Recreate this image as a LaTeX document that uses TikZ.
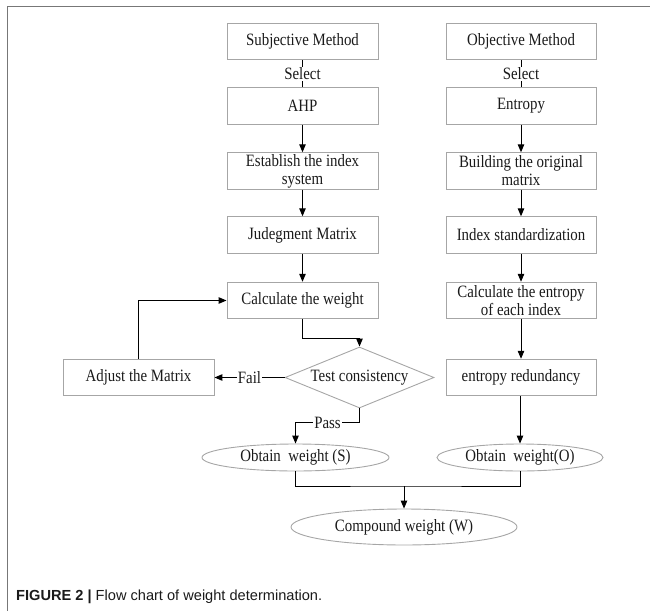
\documentclass[tikz,border=0pt]{standalone}
\usepackage{fontspec}
\setmainfont[FakeStretch=0.86]{Liberation Serif}
\newfontfamily\capfont{Liberation Sans}
\usetikzlibrary{shapes.geometric,arrows.meta,calc}
\definecolor{boxgray}{HTML}{A6A6A6}
\definecolor{framegray}{HTML}{777777}
\definecolor{txt}{HTML}{1A1A1A}
\begin{document}
\begin{tikzpicture}[x=1pt,y=-1pt,
  every node/.style={text=txt},
  bodyfont/.style={font=\fontsize{17.3}{18}\selectfont},
  box/.style={draw=boxgray, line width=0.9pt, minimum width=151pt, minimum height=36.5pt, align=center, inner sep=1pt, bodyfont},
  ell/.style={draw=boxgray, line width=0.9pt, ellipse, inner sep=0pt, bodyfont},
  dia/.style={draw=boxgray, line width=0.9pt, diamond, aspect=2.44, inner sep=0pt, minimum width=149pt, minimum height=61pt, bodyfont},
  conn/.style={draw=black, line width=1pt},
  arr/.style={conn, -{Triangle[length=8pt,width=6.5pt]}},
  lbl/.style={fill=white, inner sep=1pt, bodyfont}
]
\useasboundingbox (0,0) rectangle (650,610);
% frame
\draw[framegray, line width=1.6pt] (7.5,615) -- (7.5,6.5) -- (655,6.5);

% left column
\node[box] (subj) at (302.5,41.5) {Subjective Method};
\node[box] (ahp)  at (302.5,106) {AHP};
\node[box] (est)  at (302.5,171) {Establish the index\\system};
\node[box] (judg) at (302.5,235) {Judegment Matrix};
\node[box] (calc) at (302.5,300.5) {Calculate the weight};
\node[dia] (diam) at (359.5,377.5) {Test consistency};
\node[box] (adj)  at (138.5,377.5) {Adjust the Matrix};
\node[ell, minimum width=187pt, minimum height=27pt] (ells) at (295.5,457.5) {Obtain\ \ weight (S)};

% right column
\node[box, minimum width=150pt] (obj)   at (521,41.5) {Objective Method};
\node[box, minimum width=150pt] (ent)   at (521,106) {Entropy};
\node[box, minimum width=150pt] (build) at (521,171) {Building the original\\matrix};
\node[box, minimum width=150pt] (idx)   at (521,235) {Index standardization};
\node[box, minimum width=150pt] (ce)    at (521,300.5) {Calculate the entropy\\of each index};
\node[box, minimum width=150pt] (red)   at (521,377.5) {entropy redundancy};
\node[ell, minimum width=166pt, minimum height=27pt] (ello) at (520,457.5) {Obtain\ \ weight(O)};

\node[ell, minimum width=226pt, minimum height=36pt] (comp) at (404,527) {Compound weight (W)};

% connectors left
\draw[conn] (subj) -- node[lbl] {Select} (ahp);
\draw[arr] (ahp) -- (est);
\draw[arr] (est) -- (judg);
\draw[arr] (judg) -- (calc);
\draw[arr] (calc.south) -- ++(0,19) -| (diam.north);
\draw[arr] (diam.west) -- node[lbl] {Fail} (adj.east);
\draw[arr] (adj.north) |- (calc.west);
\draw[arr] (diam.south) -- ++(0,14) -| node[lbl, pos=0.25] {Pass} (ells.north);

% connectors right
\draw[conn] (obj) -- node[lbl] {Select} (ent);
\draw[arr] (ent) -- (build);
\draw[arr] (build) -- (idx);
\draw[arr] (idx) -- (ce);
\draw[arr] (ce) -- (red);
\draw[arr] (red.south -| ello.north) -- (ello.north);

% join
\coordinate (jn) at (404,486);
\draw[conn] (ells.south) |- (jn) -| (ello.south);
\draw[arr] (jn) -- (comp.north);

% caption
\node[anchor=west, inner sep=0pt, font=\capfont\fontsize{14.6}{16}\selectfont] (cap) at (16,597)
  {\textbf{FIGURE 2 |} Flow chart of weight determination.};
\end{tikzpicture}
\end{document}
